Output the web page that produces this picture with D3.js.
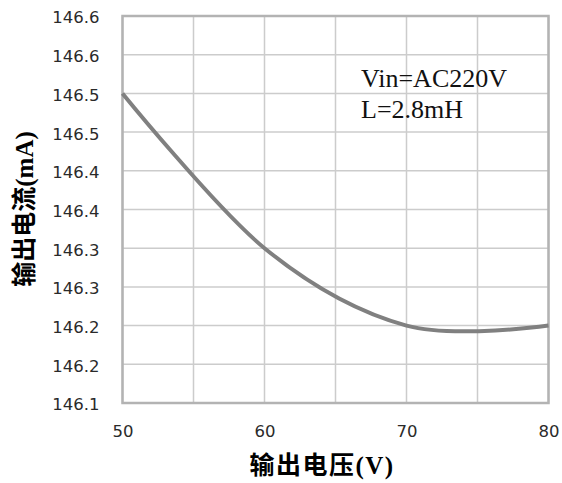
<!DOCTYPE html>
<html>
<head>
<meta charset="utf-8">
<script src="https://cdn.jsdelivr.net/npm/d3@7"></script>
<style>
  html, body { margin: 0; padding: 0; background: #fff; }
  svg { display: block; }
</style>
</head>
<body>
<svg id="chart" width="562" height="483"></svg>
<script>
// ---- data ----
const voltages = [50, 60, 70, 80];
const currents = [146.50, 146.30, 146.20, 146.20];
const xTickValues = [50, 60, 70, 80];
const xGridValues = [50, 55, 60, 65, 70, 75, 80];
const yTickValues = [146.10, 146.15, 146.20, 146.25, 146.30, 146.35, 146.40, 146.45, 146.50, 146.55, 146.60];
const yTickLabels = ["146.1", "146.2", "146.2", "146.3", "146.3", "146.4", "146.4", "146.5", "146.5", "146.6", "146.6"];
const xTitle = "输出电压(V)";
const yTitle = "输出电流(mA)";
const notes = ["Vin=AC220V", "L=2.8mH"];

// ---- layout ----
const pLeft = 122.5, pRight = 548.5, pTop = 16, pBottom = 403;
const svg = d3.select("#chart");

const x = d3.scaleLinear().domain([50, 80]).range([pLeft, pRight]);
const y = d3.scaleLinear().domain([146.10, 146.60]).range([pBottom, pTop]);

// grid
const grid = svg.append("g");
grid.selectAll("line.v").data(xGridValues).join("line")
  .attr("class", "v")
  .attr("x1", d => x(d)).attr("x2", d => x(d))
  .attr("y1", pTop).attr("y2", pBottom)
  .attr("stroke", "#cccccc").attr("stroke-width", 1.5);
grid.selectAll("line.h").data(yTickValues).join("line")
  .attr("class", "h")
  .attr("x1", pLeft).attr("x2", pRight)
  .attr("y1", d => y(d)).attr("y2", d => y(d))
  .attr("stroke", "#cccccc").attr("stroke-width", 1.5);

// frame
svg.append("rect")
  .attr("x", pLeft).attr("y", pTop)
  .attr("width", pRight - pLeft).attr("height", pBottom - pTop)
  .attr("fill", "none").attr("stroke", "#b3b3b3").attr("stroke-width", 2.5);

// y axis labels
const yAxis = d3.axisLeft(y).tickValues(yTickValues)
  .tickFormat((d, i) => yTickLabels[i]).tickSize(0).tickPadding(23);
const gy = svg.append("g").attr("transform", `translate(${pLeft},0)`).call(yAxis);
gy.select(".domain").remove();
gy.selectAll("text")
  .attr("font-family", "'DejaVu Sans', sans-serif")
  .attr("font-size", 16.5).attr("fill", "#2a2a2a").attr("dy", "0.42em");

// x axis labels
const xAxis = d3.axisBottom(x).tickValues(xTickValues).tickSize(0).tickPadding(22);
const gx = svg.append("g").attr("transform", `translate(0,${pBottom})`).call(xAxis);
gx.select(".domain").remove();
gx.selectAll("text")
  .attr("font-family", "'DejaVu Sans', sans-serif")
  .attr("font-size", 16.5).attr("fill", "#2a2a2a");

// line
const line = d3.line()
  .x((d, i) => x(voltages[i]))
  .y(d => y(d))
  .curve(d3.curveCardinal.tension(0));
svg.append("path")
  .datum(currents)
  .attr("d", line)
  .attr("fill", "none")
  .attr("stroke", "#808080")
  .attr("stroke-width", 4)
  .attr("stroke-linejoin", "round");

// annotation
svg.append("g").selectAll("text").data(notes).join("text")
  .attr("x", 361)
  .attr("y", (d, i) => 87 + i * 30.5)
  .attr("font-family", "'Liberation Serif', 'Times New Roman', serif")
  .attr("font-size", 26)
  .attr("fill", "#111")
  .text(d => d);

// titles
svg.append("text")
  .attr("x", 322).attr("y", 474)
  .attr("text-anchor", "middle")
  .attr("font-family", "'Liberation Serif', 'Noto Sans CJK SC', serif")
  .attr("font-weight", "bold")
  .attr("font-size", 25)
  .attr("letter-spacing", 1.5)
  .text(xTitle);

svg.append("text")
  .attr("transform", "translate(33,209) rotate(-90)")
  .attr("text-anchor", "middle")
  .attr("font-family", "'Liberation Serif', 'Noto Sans CJK SC', serif")
  .attr("font-weight", "bold")
  .attr("font-size", 25)
  .text(yTitle);
</script>
</body>
</html>
